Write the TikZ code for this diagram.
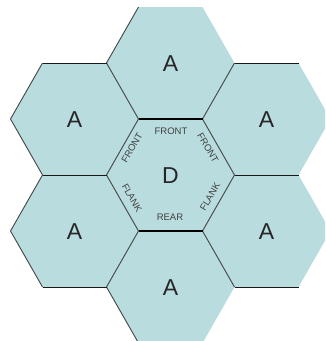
\documentclass[tikz,border=0pt]{standalone}
\usepackage{fontspec}
\setmainfont{Liberation Sans}
\definecolor{hexcol}{RGB}{185,220,222}
\begin{document}
\begin{tikzpicture}[x=1pt,y=-1pt,
  hexfill/.style={fill=hexcol},
  edge/.style={draw=black!75,line width=0.9pt},
  outer/.style={draw=black!90,line width=0.9pt},
  thickedge/.style={draw=black,line width=2pt},
  biglbl/.style={font=\fontsize{23}{23}\selectfont,text=black!85,inner sep=0pt},
  smlbl/.style={font=\fontsize{9.5}{9.5}\selectfont,text=black!75,inner sep=0pt}]
\useasboundingbox (0,0) rectangle (325,341);
\begin{scope}
\clip (0,0) rectangle (325,341);
\foreach \cx/\cy in {170.5/63, 74.5/119, 266.5/119, 170.5/175, 74.5/231, 266.5/231, 170.5/287}{
  \fill[hexfill] (\cx-64,\cy) -- (\cx-32,\cy-56) -- (\cx+32,\cy-56) -- (\cx+64,\cy) -- (\cx+32,\cy+56) -- (\cx-32,\cy+56) -- cycle;
}
% thin edges
\draw[edge] (138.5,7) -- (106.5,63) -- (138.5,119);
\draw[edge] (234.5,63) -- (202.5,119);
\draw[edge] (138.5,119) -- (106.5,175) -- (138.5,231);
\draw[edge] (202.5,119) -- (234.5,175) -- (202.5,231);
\draw[edge] (42.5,63) -- (10.5,119) -- (42.5,175) -- (10.5,231) -- (42.5,287);
\draw[edge] (138.5,231) -- (106.5,287) -- (138.5,343);
\draw[edge] (202.5,231) -- (234.5,287);
% horizontal outer edges
\draw[outer] (42.5,63) -- (106.5,63);
\draw[outer] (234.5,63) -- (298.5,63);
\draw[outer] (42.5,175) -- (106.5,175);
\draw[outer] (234.5,175) -- (298.5,175);
\draw[outer] (42.5,287) -- (106.5,287);
\draw[outer] (234.5,287) -- (298.5,287);
% thick edges of D
\draw[thickedge] (138.5,119) -- (202.5,119);
\draw[thickedge] (138.5,231) -- (202.5,231);
\end{scope}
% labels
\node[biglbl] (at) at (170.5,64) {A};
\node[biglbl] (aul) at (74.5,120) {A};
\node[biglbl] (aur) at (266.5,120) {A};
\node[biglbl] (d) at (170.5,176) {D};
\node[biglbl] (all) at (74.5,232) {A};
\node[biglbl] (alr) at (266.5,232) {A};
\node[biglbl] (ab) at (170.5,288) {A};
\node[smlbl] (ftop) at (171,131) {FRONT};
\node[smlbl] (rear) at (170,217) {REAR};
\node[smlbl,rotate=60] (fl) at (132,148) {FRONT};
\node[smlbl,rotate=-60] (fr) at (208,148) {FRONT};
\node[smlbl,rotate=-60] (kl) at (132,198) {FLANK};
\node[smlbl,rotate=60] (kr) at (210,197) {FLANK};
\end{tikzpicture}
\end{document}
